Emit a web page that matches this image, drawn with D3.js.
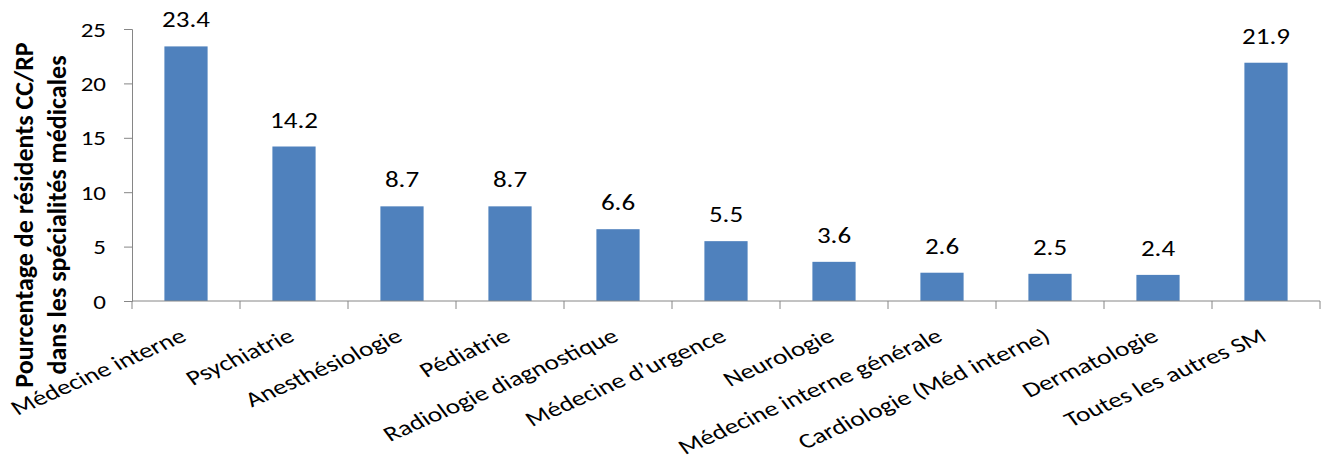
<!DOCTYPE html>
<html>
<head>
<meta charset="utf-8">
<script src="https://cdn.jsdelivr.net/npm/d3@7"></script>
<style>
  body { margin: 0; background: #fff; }
  text { font-family: Carlito, Calibri, Lato, sans-serif; fill: #000; }
</style>
</head>
<body>
<script>
// data
var categories = ["Médecine interne", "Psychiatrie", "Anesthésiologie", "Pédiatrie",
  "Radiologie diagnostique", "Médecine d\u2019urgence", "Neurologie",
  "Médecine interne générale", "Cardiologie (Méd interne)", "Dermatologie",
  "Toutes les autres SM"];
var values = [23.4, 14.2, 8.7, 8.7, 6.6, 5.5, 3.6, 2.6, 2.5, 2.4, 21.9];
var yTicks = [0, 5, 10, 15, 20, 25];
var titleLines = ["Pourcentage de résidents CC/RP", "dans les spécialités médicales"];

var w = 1326, h = 468;

var svg = d3.select("body").append("svg")
  .attr("width", w)
  .attr("height", h);

var x = d3.scaleBand()
  .domain(categories)
  .range([132, 1320])
  .paddingInner(0.6)
  .paddingOuter(0.3);

var y = d3.scaleLinear()
  .domain([0, 25])
  .range([301, 29]);

// bars
svg.selectAll("rect.bar")
  .data(values)
  .enter().append("rect")
  .attr("class", "bar")
  .attr("x", function(d, i){ return x(categories[i]); })
  .attr("y", function(d){ return y(d); })
  .attr("width", x.bandwidth())
  .attr("height", function(d){ return y(0) - y(d); })
  .style("fill", "#4F81BD");

// value labels (text is a bit wide in the picture, so stretch it sideways)
svg.selectAll("text.val")
  .data(values)
  .enter().append("text")
  .attr("class", "val")
  .attr("text-anchor", "middle")
  .attr("transform", function(d, i){
    var cx = x(categories[i]) + x.bandwidth() / 2;
    return "translate(" + cx + "," + (y(d) - 19) + ") scale(1.2,1)";
  })
  .style("font-size", "22.5px")
  .text(function(d){ return d.toFixed(1); });

// y axis
var yAxis = svg.append("g")
  .attr("transform", "translate(132,0)")
  .call(d3.axisLeft(y).tickValues(yTicks).tickSize(8).tickSizeOuter(8));
yAxis.select(".domain").attr("stroke", "#868686");
yAxis.selectAll(".tick line").attr("stroke", "#868686");
yAxis.selectAll(".tick text")
  .attr("x", 0)
  .attr("dy", "0.35em")
  .attr("transform", "translate(-26,0) scale(1.25,1)")
  .style("font-size", "20px")
  .style("font-family", "Carlito, Calibri, Lato, sans-serif");

// x axis: ticks on category boundaries
var bounds = d3.range(categories.length + 1).map(function(i){ return 132 + i * x.step(); });
var xAxis = svg.append("g");
xAxis.append("line")
  .attr("x1", 132).attr("x2", 1320)
  .attr("y1", y(0)).attr("y2", y(0))
  .attr("stroke", "#868686");
xAxis.selectAll("line.tk")
  .data(bounds)
  .enter().append("line")
  .attr("class", "tk")
  .attr("x1", function(d){ return d; }).attr("x2", function(d){ return d; })
  .attr("y1", y(0)).attr("y2", y(0) + 8)
  .attr("stroke", "#868686");

// category labels, rotated
xAxis.selectAll("text.cat")
  .data(categories)
  .enter().append("text")
  .attr("class", "cat")
  .attr("text-anchor", "end")
  .attr("transform", function(d){
    var cx = x(d) + x.bandwidth() / 2 + 2;
    return "translate(" + cx + ",340) scale(1.3,1) rotate(-30)";
  })
  .style("font-size", "21px")
  .text(function(d){ return d; });

// y title
svg.selectAll("text.ytitle")
  .data(titleLines)
  .enter().append("text")
  .attr("class", "ytitle")
  .attr("text-anchor", "middle")
  .attr("transform", function(d, i){
    return "translate(" + (33 + i * 33) + ",215) rotate(-90)";
  })
  .style("font-size", "26px")
  .style("font-weight", "bold")
  .text(function(d){ return d; });
</script>
</body>
</html>
